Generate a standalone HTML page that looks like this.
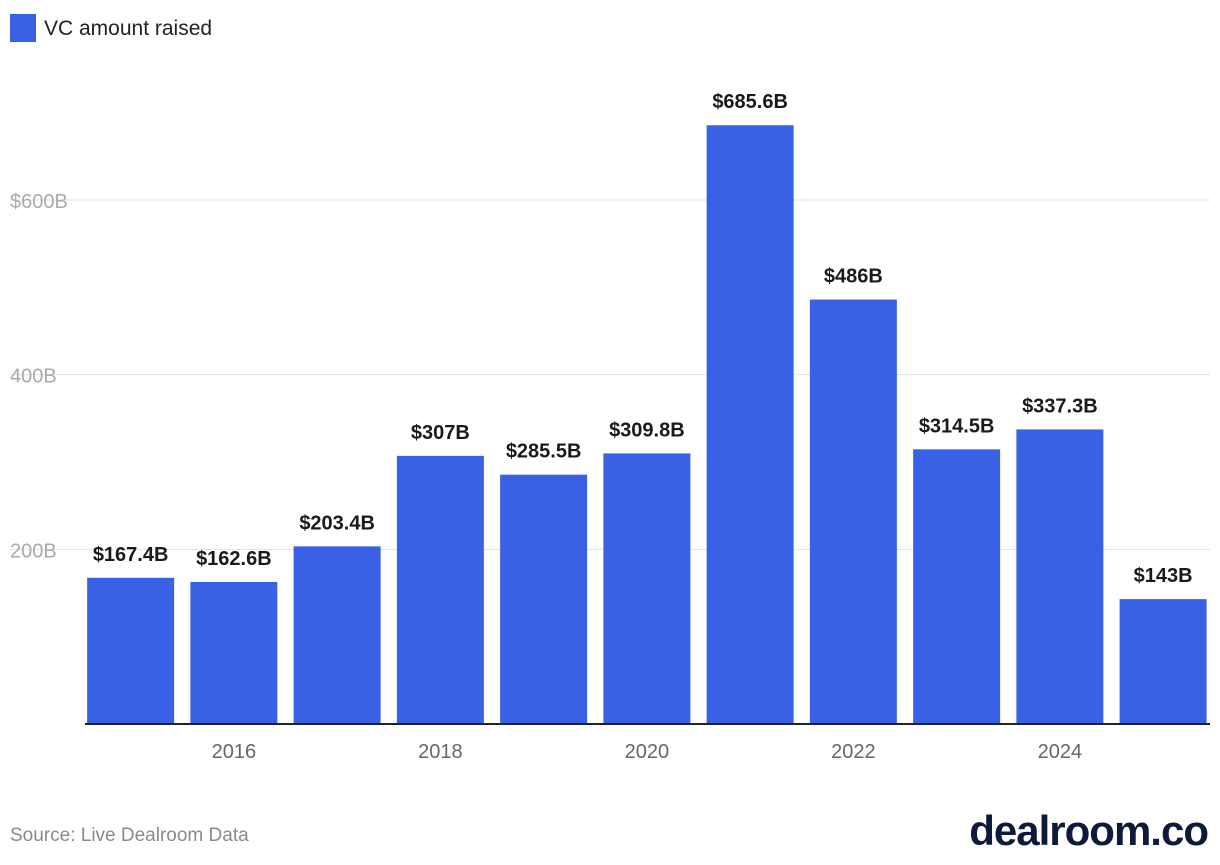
<!DOCTYPE html>
<html><head><meta charset="utf-8"><style>
body{margin:0;background:#fff;font-family:"Liberation Sans",sans-serif;}
</style></head><body>
<svg id="chart" width="1220" height="860" viewBox="0 0 1220 860" xmlns="http://www.w3.org/2000/svg">
<rect x="10" y="14" width="26" height="28" fill="#3862e3"/>
<text x="44" y="35" font-size="21" fill="#222">VC amount raised</text>
<g id="grid"></g><g id="bars"></g><g id="labels"></g><g id="xt"></g>
<text x="10" y="841" font-size="19" fill="#8a8a8a">Source: Live Dealroom Data</text>
<text x="1208" y="845" text-anchor="end" font-size="42" font-weight="bold" fill="#0e1a3a" letter-spacing="-1">dealroom.co</text>
</svg>
<script>
const years=[2015,2016,2017,2018,2019,2020,2021,2022,2023,2024,2025];
const values=[167.4,162.6,203.4,307,285.5,309.8,685.6,486,314.5,337.3,143];
const valueLabels=["$167.4B","$162.6B","$203.4B","$307B","$285.5B","$309.8B","$685.6B","$486B","$314.5B","$337.3B","$143B"];
const yTicks=[200,400,600];
const yTickLabels=["200B","400B","$600B"];
const xTicks=[2016,2018,2020,2022,2024];
const NS="http://www.w3.org/2000/svg";
const base=724,k=(724-200)/600,left=79,band=103.25,bw=87;
const y=v=>base-v*k;
const xc=yr=>left+band*(yr-years[0])+band/2;
function mk(t,a,p){const e=document.createElementNS(NS,t);for(const n in a)e.setAttribute(n,a[n]);document.getElementById(p).appendChild(e);return e;}
yTicks.forEach((t,i)=>{
 const l=mk('line',{x1:10,x2:1210,y1:y(t),y2:y(t),stroke:'#e2e2e2','stroke-width':1},'grid');
 
 
 const tx=mk('text',{x:10,y:y(t)+8,'font-size':20,fill:'#aaa'},'grid');tx.textContent=yTickLabels[i];
 
 
});
years.forEach((yr,i)=>{
 const r=mk('rect',{x:xc(yr)-bw/2,y:y(values[i]),width:bw,height:base-y(values[i]),fill:'#3862e3'},'bars');
 
 
 const t=mk('text',{x:xc(yr),y:y(values[i])-17,'text-anchor':'middle','font-size':20,'font-weight':'bold',fill:'#1a1a1a'},'labels');t.textContent=valueLabels[i];
 
 
});
const ax=mk('line',{x1:85,x2:1210,y1:base,y2:base,stroke:'#222','stroke-width':2},'xt');


xTicks.forEach(yr=>{
 const t=mk('text',{x:xc(yr),y:758,'text-anchor':'middle','font-size':20,fill:'#666'},'xt');t.textContent=yr;
 
 
});
</script>
</body></html>
